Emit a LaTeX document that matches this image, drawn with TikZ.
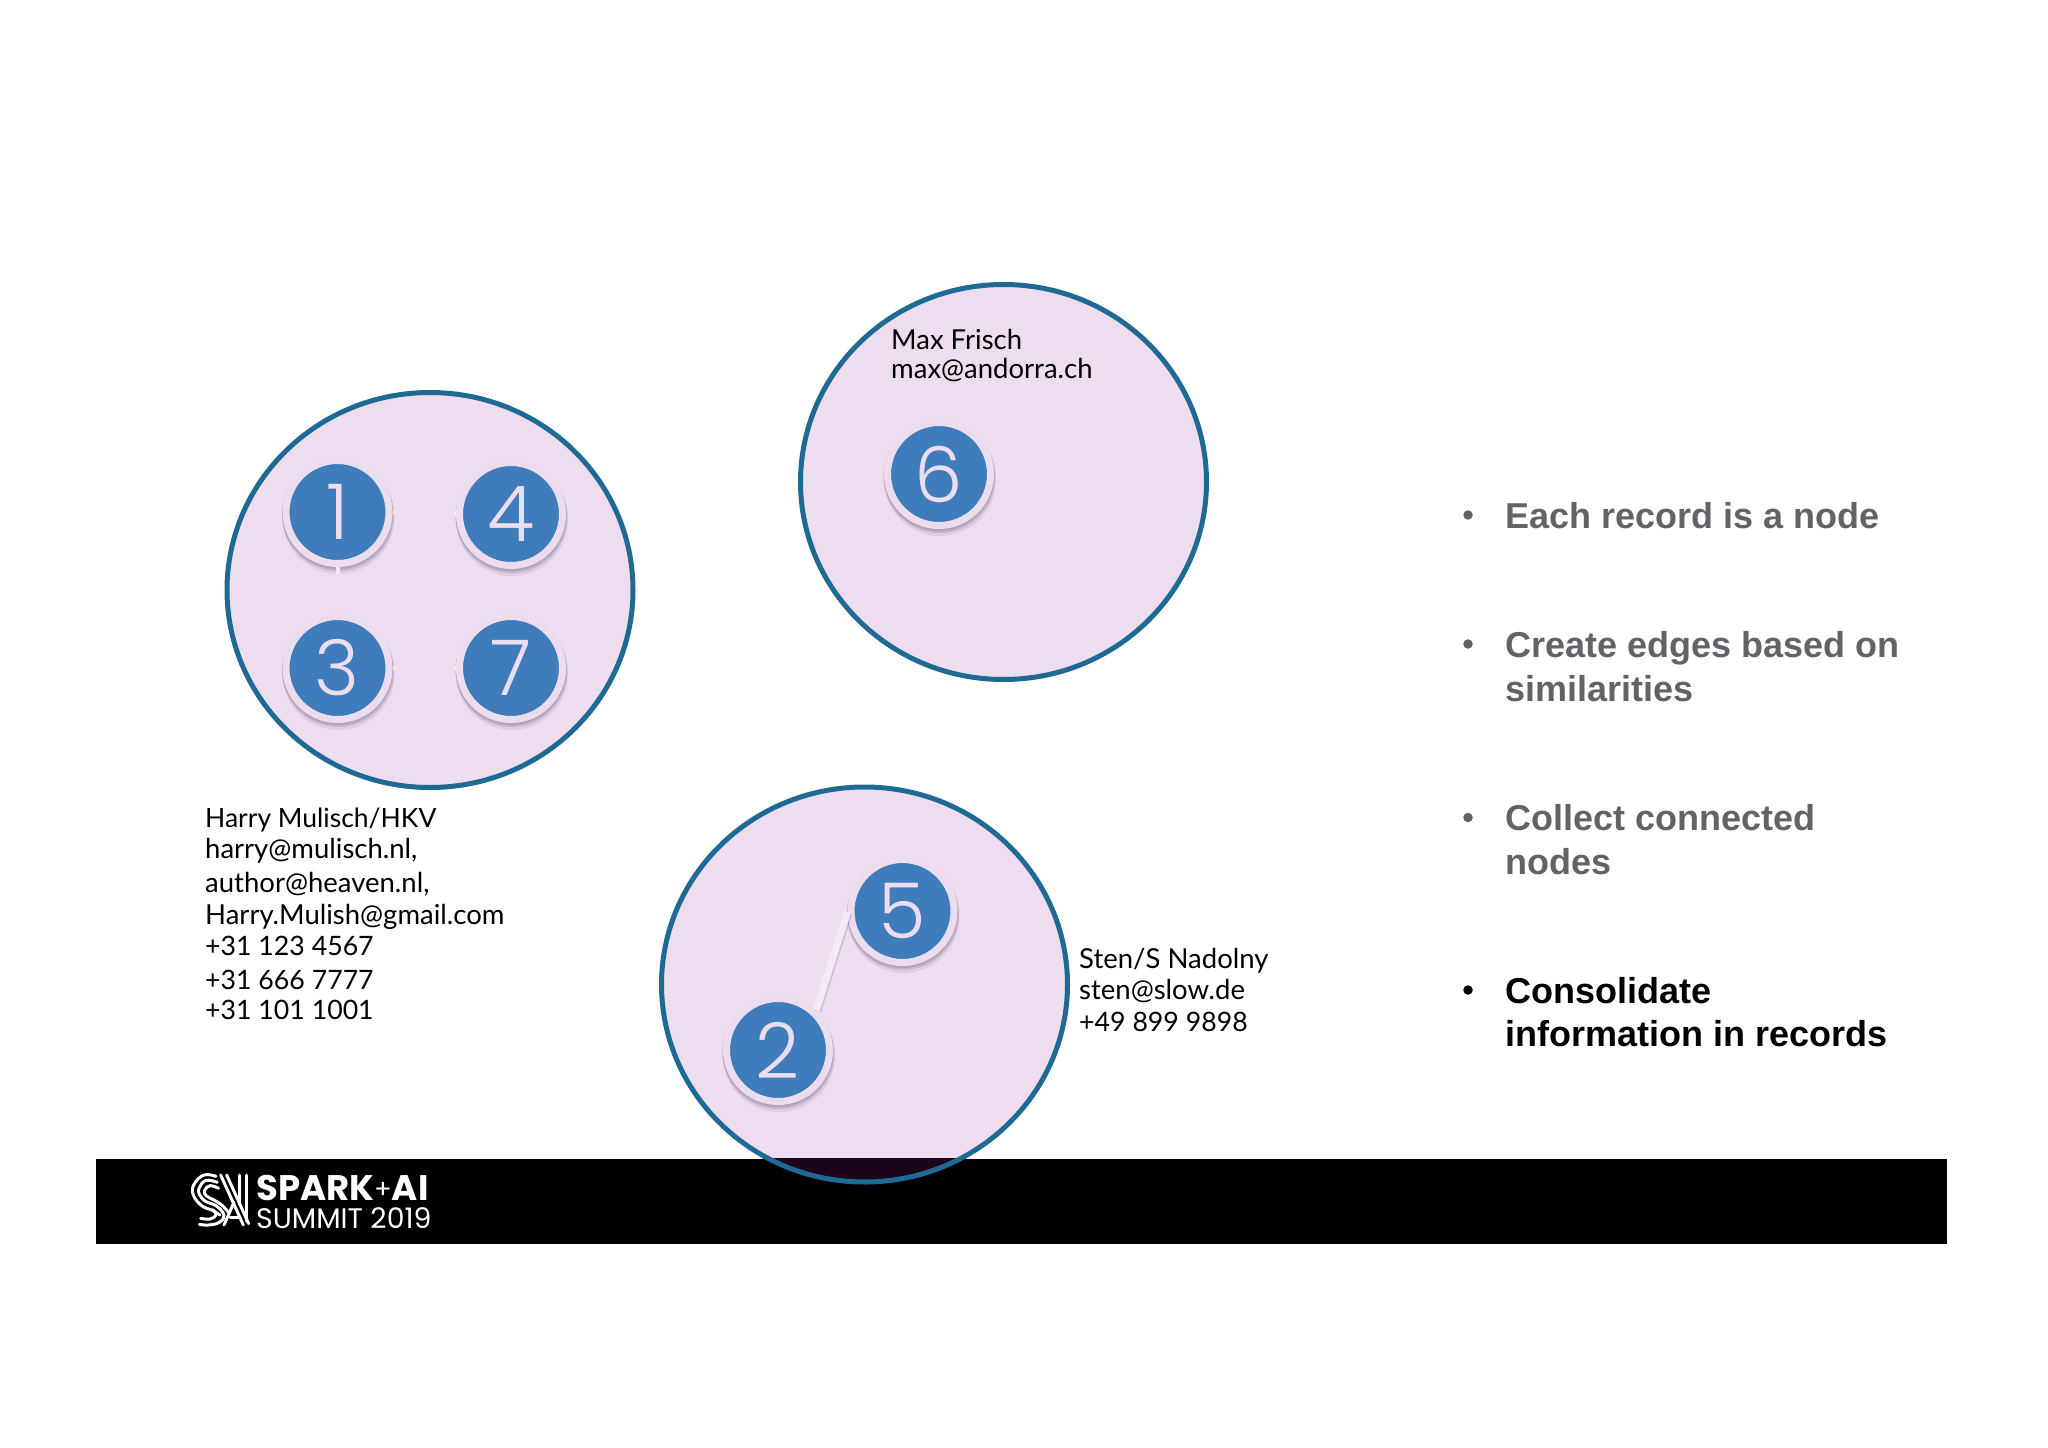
\documentclass[tikz,border=0pt]{standalone}
\usepackage{fontspec}
\usetikzlibrary{shapes.geometric}
\setmainfont{Lato}
\newfontfamily\digitfont{Poppins}[UprightFont=* Light]
\newfontfamily\arialfont{Liberation Sans}
\newfontfamily\logofont{Poppins}
\definecolor{clusterfill}{HTML}{EDDDEE}
\definecolor{clusterline}{HTML}{1F6A94}
\definecolor{nodeblue}{HTML}{3F7CBC}
\definecolor{ringcol}{HTML}{EBDDEE}
\definecolor{shadowcol}{HTML}{8F7396}
\definecolor{edgecol}{HTML}{F3E9F5}
\definecolor{bulletgrey}{HTML}{636266}
\definecolor{overlapcol}{HTML}{1B0518}
\tikzset{
  cluster/.style={ellipse,draw=clusterline,fill=clusterfill,line width=5pt,minimum width=406pt,minimum height=395pt,inner sep=0pt},
  recnode/.style={circle,draw=ringcol,fill=nodeblue,line width=7pt,minimum size=103pt,inner sep=0pt,text=ringcol,font=\digitfont\fontsize{77}{77}\selectfont},
  recshadow/.style={fill=shadowcol},
  linkedge/.style={edgecol,line width=7pt},
  linkstub/.style={edgecol,line width=4pt},
  infotext/.style={anchor=base west,inner sep=0pt,text=black,font=\fontsize{27.5}{31}\selectfont},
  phonetext/.style={infotext,font=\fontsize{26.7}{31}\selectfont},
  nametext/.style={infotext,font=\fontsize{26.5}{31}\selectfont},
  bullettext/.style={anchor=base west,inner sep=0pt,font=\arialfont\bfseries\fontsize{36}{43}\selectfont},
  bulletdot/.style={circle,inner sep=0pt,minimum size=9.5pt},
  logoline/.style={draw=white,line width=3pt,line cap=round,line join=round},
}
\newcommand{\recshadowat}[2]{%
  \fill[recshadow,opacity=.14] (#1+1,#2+6) circle[radius=56pt];
  \fill[recshadow,opacity=.28] (#1+.5,#2+3) circle[radius=56pt];
  \fill[recshadow,opacity=.30] (#1,#2+1.5) circle[radius=55.5pt];
}
\begin{document}
\begin{tikzpicture}[x=1pt,y=-1pt]
\useasboundingbox (0,0) rectangle (2048,1448);
\fill[white] (0,0) rectangle (2048,1448);

% clusters
\node[cluster] (clusterA) at (430,590) {};
\node[cluster] (clusterB) at (1003.5,482) {};
\node[cluster] (clusterC) at (864.5,984.5) {};

% footer bar
\node[fill=black,inner sep=0pt,minimum width=1851pt,minimum height=85pt] (bar) at (1021.5,1201) {};
\begin{scope}
  \clip (96,1158.5) rectangle (1947,1243.5);
  \node[cluster,fill=overlapcol] (clusterCoverlap) at (864.5,984.5) {};
\end{scope}

% records
\recshadowat{337.5}{512}
\recshadowat{511}{514}
\recshadowat{337.5}{668}
\recshadowat{511}{668}
\recshadowat{939}{474}
\recshadowat{902.5}{911}
\recshadowat{778}{1050}
\node[recnode] (n1) at (337.5,512) {1};
\node[recnode] (n4) at (511,514) {4};
\node[recnode] (n3) at (337.5,668) {3};
\node[recnode] (n7) at (511,668) {7};
\node[recnode] (n6) at (939,474) {6};
\node[recnode] (n5) at (902.5,911) {5};
\node[recnode] (n2) at (778,1050) {2};

% edges
\draw[shadowcol,opacity=.30,line width=7pt] ([xshift=1.5pt,yshift=-1pt]n2.46) -- ([xshift=1.5pt,yshift=-1pt]n5.181);
\draw[linkedge] (n2.46) -- (n5.181);
\draw[linkstub] (n1.south) -- ++(0,7);
\draw[linkstub] (n1.east) -- ++(2.5,0);
\draw[linkstub] (n3.east) -- ++(2.5,0);
\draw[linkstub] (n4.west) -- ++(-2.5,0);
\draw[linkstub] (n7.west) -- ++(-2.5,0);

% record texts
\node[nametext] (a1) at (205,827) {Harry Mulisch/HKV};
\node[infotext] (a2) at (205,858) {harry@mulisch.nl,};
\node[infotext] (a3) at (205,892) {author@heaven.nl,};
\node[infotext] (a4) at (205,924) {Harry.Mulish@gmail.com};
\node[phonetext] (a5) at (205,955) {+31 123 4567};
\node[phonetext] (a6) at (205,989) {+31 666 7777};
\node[phonetext] (a7) at (205,1019) {+31 101 1001};
\node[infotext] (b1) at (891,349.5) {Max Frisch};
\node[infotext] (b2) at (891,378.5) {max@andorra.ch};
\node[infotext] (c1) at (1079,968) {Sten/S Nadolny};
\node[infotext] (c2) at (1079,999.5) {sten@slow.de};
\node[phonetext] (c3) at (1079,1031) {+49 899 9898};

% bullets
\node[bulletdot,fill=bulletgrey] (d1) at (1468,515) {};
\node[bulletdot,fill=bulletgrey] (d2) at (1468,644) {};
\node[bulletdot,fill=bulletgrey] (d3) at (1468,817.5) {};
\node[bulletdot,fill=black] (d4) at (1468,990) {};
\node[bullettext,text=bulletgrey] (t1) at (1505,528) {Each record is a node};
\node[bullettext,text=bulletgrey] (t2) at (1505,657.5) {Create edges based on};
\node[bullettext,text=bulletgrey] (t2b) at (1505,701) {similarities};
\node[bullettext,text=bulletgrey] (t3) at (1505,830) {Collect connected};
\node[bullettext,text=bulletgrey] (t3b) at (1505,874) {nodes};
\node[bullettext,text=black] (t4) at (1505,1003) {Consolidate};
\node[bullettext,text=black] (t4b) at (1505,1046) {information in records};

% logo
\node[anchor=base west,inner sep=0pt,text=white,font=\logofont\bfseries\fontsize{35.5}{36}\selectfont] (logoa) at (256,1200.5) {SPARK{\logofont\mdseries\fontsize{26}{26}\selectfont\raisebox{2pt}{+}}AI};
\node[anchor=base west,inner sep=0pt,text=white,font=\logofont\fontsize{28.3}{28}\selectfont] (logob) at (256,1228) {SUMMIT 2019};
\begin{scope}[shift={(180,1165)},x=.3333pt,y=-.3333pt]
  \draw[logoline] plot[smooth,tension=.7] coordinates {(108,34) (72,30) (42,58) (40,90) (65,122) (95,135) (120,150)};
  \draw[logoline] plot[smooth,tension=.7] coordinates {(112,52) (78,46) (58,68) (58,88) (78,110) (108,122) (132,150) (118,172) (85,180) (58,178)};
  \draw[logoline] plot[smooth,tension=.7] coordinates {(116,70) (90,62) (74,76) (78,92) (100,104) (125,120) (148,145)};
  \draw[logoline] plot[smooth,tension=.7] coordinates {(62,160) (90,162) (108,150) (98,134)};
  \draw[logoline] (122,30) -- (190,180);
  \draw[logoline] (140,30) -- (206,176);
  \draw[logoline] (178,30) -- (178,118);
  \draw[logoline] (200,30) -- (200,168);
  \draw[logoline] (132,180) -- (162,112);
  \draw[logoline] (150,158) -- (176,158);
\end{scope}
\end{tikzpicture}
\end{document}
